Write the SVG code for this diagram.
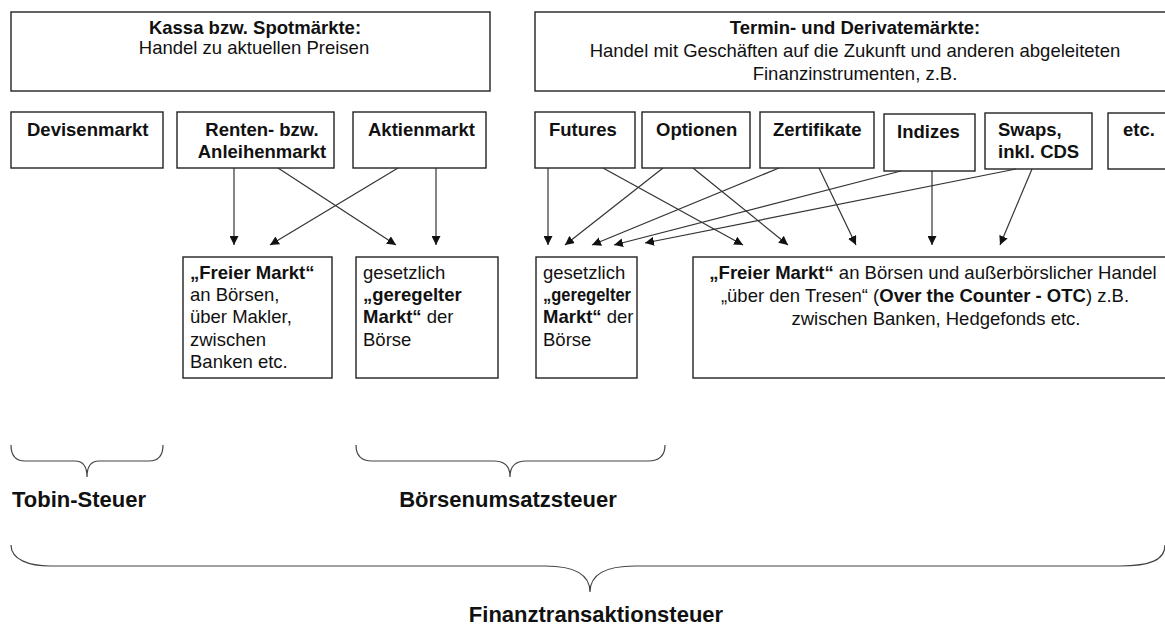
<svg xmlns="http://www.w3.org/2000/svg" width="1165" height="627" viewBox="0 0 1165 627">
<defs>
<style>
.box{fill:#fff;stroke:#222;stroke-width:1.4}
text{font-family:"Liberation Sans",Arial,sans-serif;fill:#111;font-size:18.5px}
.b{font-weight:bold}
.c{text-anchor:middle}
.big{font-size:22px;font-weight:bold}
.con line{stroke:#333;stroke-width:1.2;marker-end:url(#ah)}
.brace{fill:none;stroke:#444;stroke-width:1.2}
</style>
<marker id="ah" viewBox="0 0 10 10" refX="10" refY="5" markerWidth="9" markerHeight="9" markerUnits="userSpaceOnUse" orient="auto">
<path d="M0,0 L10,5 L0,10 Z" fill="#111"/>
</marker>
</defs>
<rect width="1165" height="627" fill="#fff"/>

<g id="kassa">
<rect class="box" x="11" y="12" width="479" height="79"/>
<text class="c b" x="255" y="34">Kassa bzw. Spotmärkte:</text>
<text class="c" x="254" y="54">Handel zu aktuellen Preisen</text>
</g>
<g id="termin">
<rect class="box" x="535" y="12" width="640" height="79"/>
<text class="c b" x="855" y="34">Termin- und Derivatemärkte:</text>
<text class="c" x="855" y="57">Handel mit Geschäften auf die Zukunft und anderen abgeleiteten</text>
<text class="c" x="855" y="80">Finanzinstrumenten, z.B.</text>
</g>

<g id="devisen"><rect class="box" x="11" y="112" width="152" height="56"/><text class="b" x="27" y="136">Devisenmarkt</text></g>
<g id="renten"><rect class="box" x="177" y="112" width="157" height="56"/><text class="c b" x="262" y="136">Renten- bzw.</text><text class="c b" x="262" y="158">Anleihenmarkt</text></g>
<g id="aktien"><rect class="box" x="353" y="112" width="133" height="56"/><text class="b" x="368" y="136">Aktienmarkt</text></g>
<g id="futures"><rect class="box" x="535" y="112" width="100" height="56"/><text class="b" x="549" y="136">Futures</text></g>
<g id="optionen"><rect class="box" x="642" y="112" width="108" height="56"/><text class="b" x="656" y="136">Optionen</text></g>
<g id="zertifikate"><rect class="box" x="760" y="112" width="114" height="56"/><text class="b" x="773" y="136">Zertifikate</text></g>
<g id="indizes"><rect class="box" x="884" y="114" width="91" height="57"/><text class="b" x="897" y="138">Indizes</text></g>
<g id="swaps"><rect class="box" x="985" y="113" width="107" height="56"/><text class="b" x="998" y="136">Swaps,</text><text class="b" x="998" y="158">inkl. CDS</text></g>
<g id="etc"><rect class="box" x="1108" y="113" width="70" height="56"/><text class="b" x="1123" y="136">etc.</text></g>

<g id="frei1"><rect class="box" x="183" y="257" width="149" height="121"/>
<text x="190" y="279" class="b">„Freier Markt“</text>
<text x="190" y="301">an Börsen,</text>
<text x="190" y="323">über Makler,</text>
<text x="190" y="346">zwischen</text>
<text x="190" y="368">Banken etc.</text>
</g>
<g id="geregelt1"><rect class="box" x="356" y="257" width="142" height="121"/>
<text x="363" y="279">gesetzlich</text>
<text x="363" y="301" class="b">„geregelter</text>
<text x="363" y="323"><tspan class="b">Markt“</tspan> der</text>
<text x="363" y="346">Börse</text>
</g>
<g id="geregelt2"><rect class="box" x="536" y="257" width="101" height="121"/>
<text x="543" y="279">gesetzlich</text>
<text x="543" y="301" class="b" textLength="88" lengthAdjust="spacingAndGlyphs">„geregelter</text>
<text x="543" y="323"><tspan class="b">Markt“</tspan> der</text>
<text x="543" y="346">Börse</text>
</g>
<g id="frei2"><rect class="box" x="693" y="257" width="485" height="121"/>
<text class="c" x="933" y="279"><tspan class="b">„Freier Markt“</tspan> an Börsen und außerbörslicher Handel</text>
<text class="c" x="925" y="302">„über den Tresen“ (<tspan class="b">Over the Counter - OTC</tspan>) z.B.</text>
<text class="c" x="936" y="325">zwischen Banken, Hedgefonds etc.</text>
</g>

<g id="connectors" class="con">
<line x1="234" y1="168" x2="234" y2="245"/>
<line x1="278" y1="168" x2="396" y2="245"/>
<line x1="398" y1="168" x2="270" y2="245"/>
<line x1="436" y1="168" x2="436" y2="245"/>
<line x1="548" y1="168" x2="548" y2="245"/>
<line x1="603" y1="168" x2="743" y2="245"/>
<line x1="663" y1="168" x2="565" y2="245"/>
<line x1="693" y1="168" x2="788" y2="245"/>
<line x1="779" y1="168" x2="592" y2="245"/>
<line x1="819" y1="168" x2="856" y2="245"/>
<line x1="901" y1="171" x2="614" y2="245"/>
<line x1="932" y1="171" x2="932" y2="245"/>
<line x1="1016" y1="169" x2="645" y2="243"/>
<line x1="1032" y1="169" x2="1000" y2="245"/>
</g>

<g id="tobin">
<path class="brace" d="M11,445 C11,455 15,461 25,461 L75,461 C83,461 87,466 87,477 C87,466 91,461 99,461 L149,461 C159,461 163,455 163,445"/>
<text class="big" x="12" y="507">Tobin-Steuer</text>
</g>
<g id="boersen">
<path class="brace" d="M356,445 C356,455 360,461 372,461 L494,461 C505,461 510,466 510,477 C510,466 515,461 526,461 L648,461 C660,461 665,455 665,445"/>
<text class="big c" x="508" y="507">Börsenumsatzsteuer</text>
</g>
<g id="fts">
<path class="brace" d="M11,545 C11,560 30,566 50,566 L545,566 C575,566 590,575 590,592 C590,575 605,566 635,566 L1120,566 C1150,566 1165,560 1165,545"/>
<text class="big c" x="596" y="622">Finanztransaktionsteuer</text>
</g>
</svg>
